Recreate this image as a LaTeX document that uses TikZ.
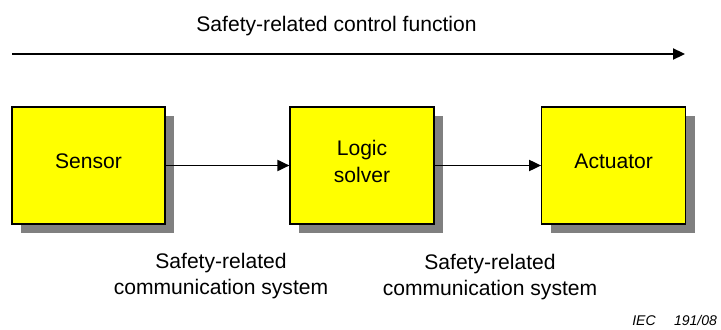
\documentclass[tikz,border=0pt]{standalone}
\usepackage{fontspec}
\setmainfont{Liberation Sans}
\usetikzlibrary{shapes,arrows,arrows.meta,shadows}
\definecolor{boxyellow}{RGB}{255,255,0}
\definecolor{shadowgray}{RGB}{128,128,128}

\begin{document}
\begin{tikzpicture}[scale=1.0000]
	\tikzstyle{every node}=[scale=1.0000]
	\tikzstyle{txt}=[font=\fontsize{15}{19}\selectfont, align=center]
	\tikzstyle{unit}=[txt, draw, line width=0.9pt, fill=boxyellow, minimum height=2.9250cm, drop shadow={shadow xshift=0.2250cm, shadow yshift=-0.2250cm, fill=shadowgray, opacity=1}]
	\tikzstyle{link}=[line width=1pt, -{Triangle[length=0.3000cm,width=0.2800cm]}]

	\useasboundingbox (0.0000,0.0000) rectangle (18.0250,8.2250);

	% function arrow
	\node [txt] (func) at (8.4125,7.5700) {Safety-related control function};
	\coordinate (funcstart) at (0.3000,6.8750);
	\coordinate (funcend) at (17.1250,6.8750);
	\draw [link] (funcstart) -- (funcend);

	% blocks
	\node [unit, minimum width=3.8250cm, text depth=6.4pt] (sensor) at (2.2125,4.0875) {Sensor};
	\node [unit, minimum width=3.6000cm] (logic) at (9.0500,4.0875) {Logic\\solver\strut};
	\node [unit, minimum width=3.6000cm, text depth=6.4pt] (actuator) at (15.3425,4.0875) {Actuator};

	\draw [link] (sensor) -- (logic);
	\draw [link] (logic) -- (actuator);

	\node [txt] (comm1) at (5.5250,1.3250) {Safety-related\\communication system};
	\node [txt] (comm2) at (12.2500,1.3000) {Safety-related\\communication system};

	\node [anchor=base east, font=\fontsize{10}{12}\selectfont\itshape] (ref) at (18.0500,0.1000) {IEC\hspace{1.3em}191/08};

\end{tikzpicture}
\end{document}
